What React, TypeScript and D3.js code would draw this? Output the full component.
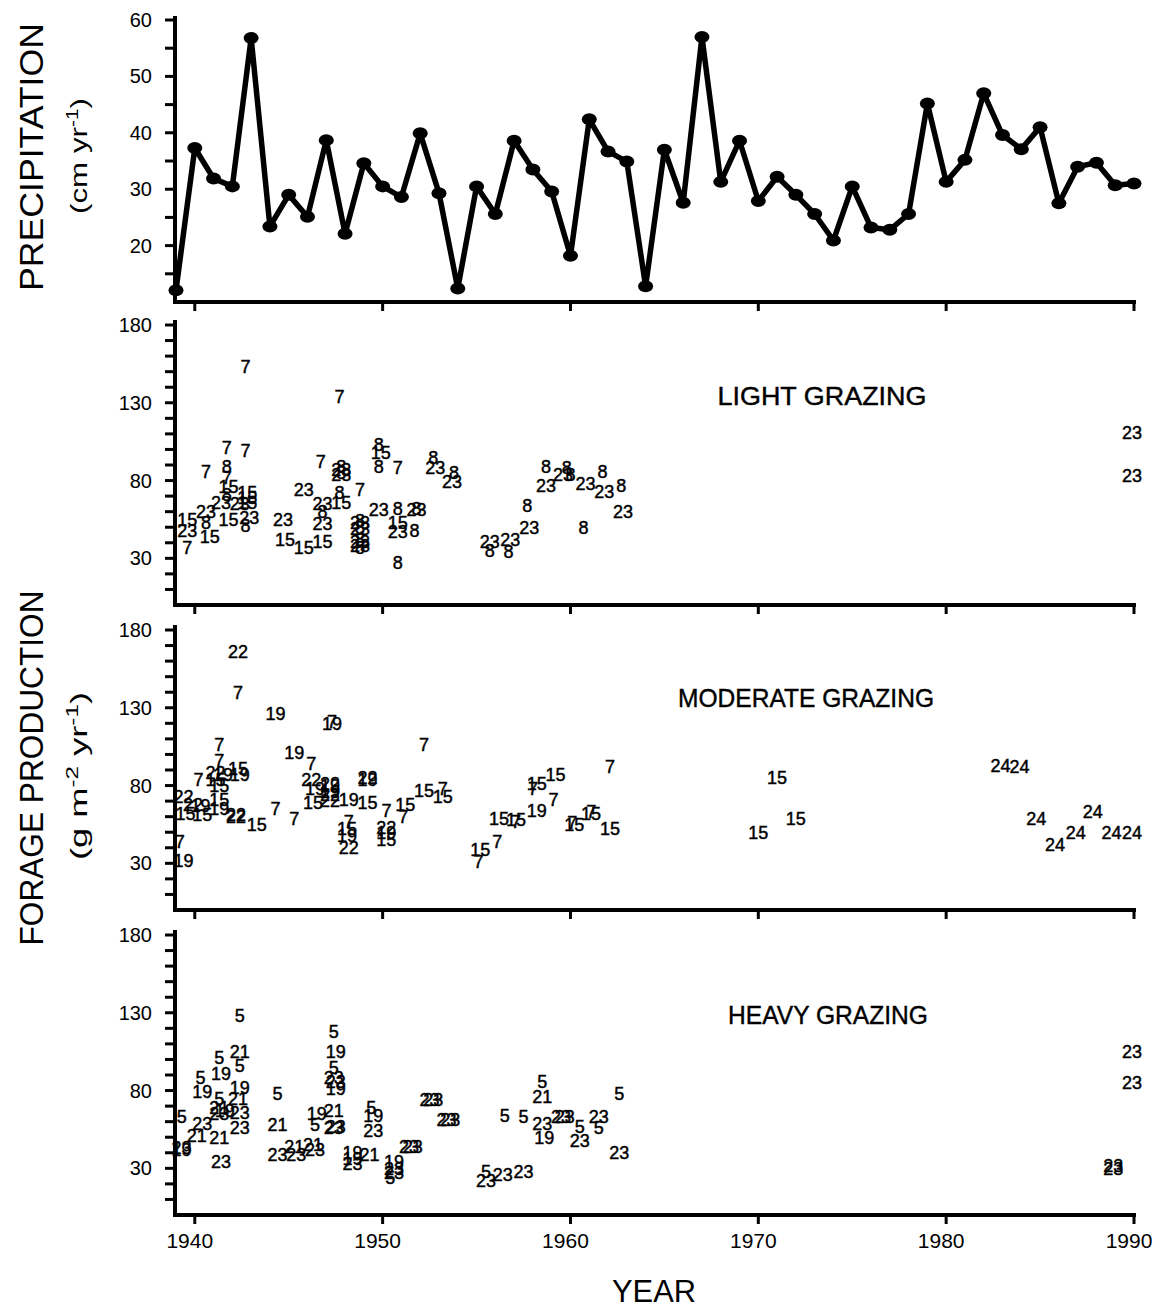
import React from 'react'
import * as d3 from 'd3'

// annual precipitation, 1939-1990 (cm/yr)
const years = d3.range(1939, 1991)
const precipitation = [
	12.1, 37.3, 31.9, 30.5, 56.8, 23.4, 29.0, 25.1, 38.7, 22.1,
	34.6, 30.5, 28.6, 39.9, 29.3, 12.4, 30.5, 25.6, 38.6, 33.5,
	29.6, 18.2, 42.4, 36.7, 34.9, 12.8, 37.0, 27.6, 57.0, 31.3,
	38.6, 27.9, 32.2, 29.0, 25.6, 20.9, 30.5, 23.2, 22.8, 25.6,
	45.2, 31.3, 35.2, 47.0, 39.6, 37.1, 41.0, 27.5, 34.0, 34.7,
	30.7, 31.0,
]

const decadeTicks = [1940, 1950, 1960, 1970, 1980, 1990]
const precipTicks = [20, 30, 40, 50, 60]
const forageTicks = [30, 80, 130, 180]

// [year, forage g/m2/yr, plot number]
const lightGrazing: [number, number, string][] = [
	[1942.7, 153, '7'], [1947.7, 134, '7'], [1941.7, 101, '7'], [1942.7, 99, '7'],
	[1940.6, 86, '7'], [1941.7, 89, '8'], [1941.7, 82, '7'], [1941.8, 76, '15'],
	[1942.8, 72, '15'], [1942.8, 69, '15'], [1941.7, 71, '8'], [1941.4, 66, '23'],
	[1942.4, 65, '23'], [1942.8, 66, '15'], [1940.6, 60, '23'], [1941.8, 55, '15'],
	[1942.9, 56, '23'], [1942.7, 51, '8'], [1939.6, 55, '15'], [1940.6, 53, '8'],
	[1939.6, 48, '23'], [1940.8, 44, '15'], [1939.6, 37, '7'], [1945.8, 74, '23'],
	[1946.7, 92, '7'], [1947.8, 89, '8'], [1947.8, 87, '23'], [1947.8, 85, '8'],
	[1947.8, 84, '23'], [1947.7, 72, '8'], [1948.8, 74, '7'], [1947.8, 66, '15'],
	[1946.8, 65, '23'], [1946.8, 60, '8'], [1946.8, 52, '23'], [1944.7, 55, '23'],
	[1944.8, 42, '15'], [1945.8, 37, '15'], [1946.8, 41, '15'], [1948.8, 54, '8'],
	[1948.8, 53, '23'], [1948.8, 50, '8'], [1948.8, 49, '23'], [1948.8, 42, '8'],
	[1948.8, 41, '23'], [1948.8, 37, '8'], [1948.8, 38, '23'], [1949.8, 103, '8'],
	[1949.9, 98, '15'], [1949.8, 89, '8'], [1950.8, 88, '7'], [1952.7, 95, '8'],
	[1952.8, 88, '23'], [1953.8, 85, '8'], [1953.7, 79, '23'], [1949.8, 61, '23'],
	[1950.8, 62, '8'], [1951.8, 61, '23'], [1951.8, 62, '8'], [1950.8, 53, '15'],
	[1950.8, 47, '23'], [1951.7, 48, '8'], [1950.8, 27, '8'], [1958.7, 89, '8'],
	[1958.7, 77, '23'], [1959.8, 88, '8'], [1959.6, 84, '23'], [1960.0, 84, '8'],
	[1960.8, 78, '23'], [1961.7, 86, '8'], [1961.8, 73, '23'], [1962.7, 77, '8'],
	[1962.8, 60, '23'], [1957.7, 64, '8'], [1957.8, 50, '23'], [1960.7, 50, '8'],
	[1955.7, 41, '23'], [1955.7, 35, '8'], [1956.8, 42, '23'], [1956.7, 34, '8'],
	[1989.9, 111, '23'], [1989.9, 83, '23'],
]

const moderateGrazing: [number, number, string][] = [
	[1942.3, 166, '22'], [1942.3, 140, '7'], [1944.3, 126, '19'], [1947.3, 121, '7'],
	[1947.3, 120, '19'], [1941.3, 106, '7'], [1945.3, 101, '19'], [1946.2, 94, '7'],
	[1941.3, 96, '7'], [1952.2, 106, '7'], [1940.2, 84, '7'], [1941.1, 88, '22'],
	[1941.5, 87, '19'], [1942.3, 91, '15'], [1942.4, 87, '19'], [1941.3, 80, '15'],
	[1941.1, 84, '15'], [1939.4, 73, '22'], [1939.5, 62, '15'], [1940.3, 67, '19'],
	[1939.9, 68, '22'], [1940.4, 61, '15'], [1941.3, 71, '15'], [1941.3, 65, '19'],
	[1942.2, 60, '22'], [1942.2, 61, '22'], [1943.3, 55, '15'], [1944.3, 65, '7'],
	[1945.3, 59, '7'], [1939.2, 44, '7'], [1939.4, 32, '19'], [1946.2, 84, '22'],
	[1946.4, 78, '19'], [1947.2, 81, '22'], [1947.2, 80, '19'], [1946.3, 69, '15'],
	[1947.2, 74, '22'], [1947.2, 76, '19'], [1947.2, 70, '22'], [1948.2, 71, '19'],
	[1949.2, 69, '15'], [1950.2, 64, '7'], [1951.2, 68, '15'], [1951.1, 60, '7'],
	[1949.2, 85, '22'], [1949.2, 84, '19'], [1948.2, 57, '7'], [1948.1, 52, '15'],
	[1948.1, 48, '19'], [1948.2, 40, '22'], [1950.2, 53, '22'], [1950.2, 50, '19'],
	[1950.2, 45, '15'], [1952.2, 77, '15'], [1953.2, 78, '7'], [1953.2, 73, '15'],
	[1958.2, 81, '15'], [1958.0, 78, '7'], [1959.2, 87, '15'], [1959.1, 71, '7'],
	[1958.2, 64, '19'], [1956.2, 59, '15'], [1957.1, 58, '15'], [1957.1, 57, '7'],
	[1956.1, 44, '7'], [1955.2, 39, '15'], [1955.1, 31, '7'], [1960.2, 55, '15'],
	[1960.1, 56, '7'], [1961.1, 62, '15'], [1961.1, 63, '7'], [1962.1, 52, '15'],
	[1962.1, 92, '7'], [1971.0, 85, '15'], [1972.0, 59, '15'], [1970.0, 50, '15'],
	[1982.9, 93, '24'], [1983.9, 92, '24'], [1984.8, 59, '24'], [1987.8, 63, '24'],
	[1986.9, 50, '24'], [1985.8, 42, '24'], [1988.8, 50, '24'], [1989.9, 50, '24'],
]

const heavyGrazing: [number, number, string][] = [
	[1942.4, 128, '5'], [1947.4, 118, '5'], [1947.5, 105, '19'], [1942.4, 105, '21'],
	[1941.3, 101, '5'], [1942.4, 96, '5'], [1941.4, 91, '19'], [1947.4, 95, '5'],
	[1947.4, 88, '23'], [1947.5, 86, '23'], [1947.5, 81, '19'], [1940.3, 88, '5'],
	[1940.4, 79, '19'], [1942.4, 82, '19'], [1941.3, 75, '5'], [1942.3, 75, '21'],
	[1944.4, 78, '5'], [1947.4, 67, '21'], [1946.5, 65, '19'], [1946.4, 58, '5'],
	[1947.5, 57, '23'], [1947.4, 56, '23'], [1949.4, 69, '5'], [1949.5, 64, '19'],
	[1949.5, 54, '23'], [1942.4, 66, '23'], [1941.3, 69, '21'], [1941.3, 65, '23'],
	[1941.6, 67, '19'], [1942.4, 56, '23'], [1939.3, 63, '5'], [1940.4, 59, '23'],
	[1940.1, 51, '21'], [1941.3, 50, '21'], [1941.4, 34, '23'], [1939.3, 43, '23'],
	[1939.3, 42, '19'], [1944.4, 58, '21'], [1944.4, 39, '23'], [1945.3, 44, '21'],
	[1945.4, 39, '23'], [1946.3, 45, '21'], [1946.4, 42, '23'], [1948.4, 40, '19'],
	[1949.3, 39, '21'], [1948.4, 33, '23'], [1948.4, 36, '19'], [1950.6, 34, '19'],
	[1950.6, 30, '23'], [1950.6, 27, '23'], [1950.4, 24, '5'], [1952.5, 74, '23'],
	[1952.7, 74, '23'], [1953.4, 61, '23'], [1953.6, 61, '23'], [1951.4, 44, '23'],
	[1951.6, 44, '23'], [1958.5, 86, '5'], [1958.5, 76, '21'], [1956.5, 64, '5'],
	[1957.5, 63, '5'], [1958.5, 59, '23'], [1959.5, 63, '23'], [1959.7, 63, '23'],
	[1958.6, 50, '19'], [1960.5, 57, '5'], [1960.5, 48, '23'], [1961.5, 63, '23'],
	[1961.5, 56, '5'], [1962.6, 78, '5'], [1962.6, 40, '23'], [1955.5, 28, '5'],
	[1955.5, 22, '23'], [1956.4, 26, '23'], [1957.5, 28, '23'], [1989.9, 105, '23'],
	[1989.9, 85, '23'], [1988.9, 32, '23'], [1988.9, 30, '23'],
]

const FONT = "'Liberation Sans', Arial, Helvetica, sans-serif"
const AXIS_X = 175

const x = d3.scaleLinear().domain([1939, 1990]).range([176, 1134])
const yPrecip = d3.scaleLinear().domain([10, 60]).range([302, 20])

const panels = [
	{ title: 'LIGHT GRAZING', data: lightGrazing, top: 325, bottom: 605, tx: 822, ty: 405, tw: 209 },
	{ title: 'MODERATE GRAZING', data: moderateGrazing, top: 630, bottom: 910, tx: 806, ty: 707, tw: 256 },
	{ title: 'HEAVY GRAZING', data: heavyGrazing, top: 935, bottom: 1215, tx: 828, ty: 1024, tw: 200 },
]

const BottomAxis = ({ y }: { y: number }) => (
	<g>
		<line x1={AXIS_X - 2} x2={x(1990) + 2} y1={y} y2={y} stroke='#000' strokeWidth={4} />
		{decadeTicks.map(t => (
			<line key={t} x1={x(t)} x2={x(t)} y1={y} y2={y + 9} stroke='#000' strokeWidth={3} />
		))}
	</g>
)

const App = () => {
	const line = d3
		.line<number>()
		.x((_, i) => x(years[i]))
		.y(d => yPrecip(d))

	const lastBottom = panels[panels.length - 1].bottom

	return (
		<svg
			width={1156}
			height={1308}
			style={{ position: 'absolute', left: 0, top: 0, background: '#fff' }}
			fontFamily={FONT}
		>
			{/* precipitation panel */}
			<line x1={AXIS_X} x2={AXIS_X} y1={16} y2={yPrecip(10)} stroke='#000' strokeWidth={4} />
			{d3.range(15, 61, 5).map(t => (
				<line key={t} x1={AXIS_X - 10} x2={AXIS_X} y1={yPrecip(t)} y2={yPrecip(t)} stroke='#000' strokeWidth={3} />
			))}
			{precipTicks.map(t => (
				<text key={t} x={152} y={yPrecip(t)} dy='0.35em' textAnchor='end' fontSize={20}>
					{t}
				</text>
			))}
			<BottomAxis y={yPrecip(10)} />
			<path d={line(precipitation) || ''} fill='none' stroke='#000' strokeWidth={5.5} strokeLinejoin='round' />
			{precipitation.map((d, i) => (
				<ellipse key={i} cx={x(years[i])} cy={yPrecip(d)} rx={7.5} ry={6} fill='#000' />
			))}

			{/* forage panels */}
			{panels.map(p => {
				const y = d3.scaleLinear().domain([0, 180]).range([p.bottom, p.top])
				return (
					<g key={p.title}>
						<line x1={AXIS_X} x2={AXIS_X} y1={p.top - 5} y2={p.bottom} stroke='#000' strokeWidth={4} />
						{d3.range(10, 181, 10).map(t => (
							<line key={t} x1={AXIS_X - 10} x2={AXIS_X} y1={y(t)} y2={y(t)} stroke='#000' strokeWidth={3} />
						))}
						{forageTicks.map(t => (
							<text key={t} x={152} y={y(t)} dy='0.35em' textAnchor='end' fontSize={20}>
								{t}
							</text>
						))}
						<BottomAxis y={p.bottom} />
						<text
							x={p.tx}
							y={p.ty}
							textAnchor='middle'
							fontSize={25}
							textLength={p.tw}
							lengthAdjust='spacingAndGlyphs'
							stroke='#000'
							strokeWidth={0.4}
						>
							{p.title}
						</text>
						{p.data.map(([yr, v, plot], i) => (
							<text
								key={i}
								x={x(yr)}
								y={y(v)}
								dy='0.35em'
								textAnchor='middle'
								fontSize={18}
								stroke='#000'
								strokeWidth={0.45}
							>
								{plot}
							</text>
						))}
					</g>
				)
			})}

			{/* year labels */}
			{decadeTicks.map(t => (
				<text key={t} x={x(t) - 5} y={lastBottom + 33} textAnchor='middle' fontSize={21}>
					{t}
				</text>
			))}
			<text x={654} y={1302} textAnchor='middle' fontSize={31} textLength={84} lengthAdjust='spacingAndGlyphs'>
				YEAR
			</text>

			{/* y axis titles */}
			<text
				transform='translate(43,157) rotate(-90)'
				textAnchor='middle'
				fontSize={33}
				textLength={268}
				lengthAdjust='spacingAndGlyphs'
			>
				PRECIPITATION
			</text>
			<text
				transform='translate(87,156) rotate(-90)'
				textAnchor='middle'
				fontSize={24}
				textLength={116}
				lengthAdjust='spacingAndGlyphs'
			>
				(cm yr<tspan dy={-9} fontSize={16}>-1</tspan>
				<tspan dy={9}>)</tspan>
			</text>
			<text
				transform='translate(43,768) rotate(-90)'
				textAnchor='middle'
				fontSize={33}
				textLength={355}
				lengthAdjust='spacingAndGlyphs'
			>
				FORAGE PRODUCTION
			</text>
			<text
				transform='translate(87,776) rotate(-90)'
				textAnchor='middle'
				fontSize={24}
				textLength={168}
				lengthAdjust='spacingAndGlyphs'
			>
				(g m<tspan dy={-9} fontSize={16}>-2</tspan>
				<tspan dy={9}> yr</tspan>
				<tspan dy={-9} fontSize={16}>-1</tspan>
				<tspan dy={9}>)</tspan>
			</text>
		</svg>
	)
}

export default App
